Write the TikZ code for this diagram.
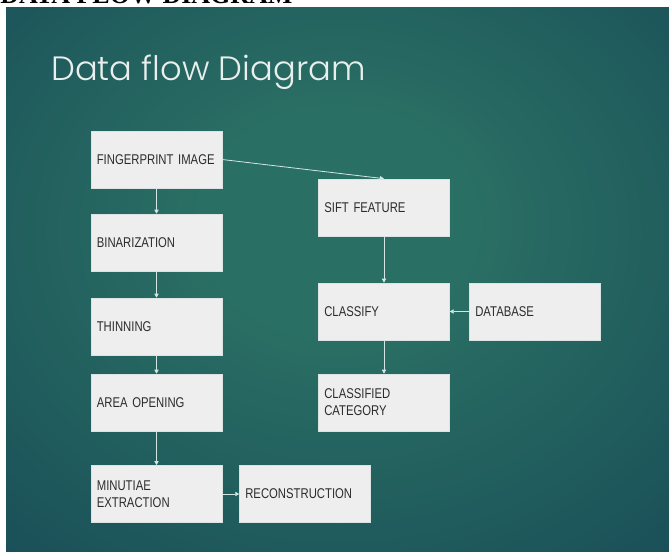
\documentclass[tikz,border=0pt]{standalone}
\usepackage{fontspec}
\setmainfont{Liberation Sans}
\newfontfamily\boxfont[FakeStretch=0.8]{Liberation Sans}
\newfontfamily\titlefont{Poppins Light}
\newfontfamily\headfont{Liberation Serif}
\usetikzlibrary{arrows.meta}
\definecolor{bgc}{HTML}{2A6F64}
\definecolor{bgm}{HTML}{1C545A}
\definecolor{bgo}{HTML}{10354A}
\definecolor{boxfill}{HTML}{EEEEEE}
\definecolor{boxline}{HTML}{DCE3E3}
\definecolor{boxtext}{HTML}{2C2C2C}
\definecolor{arrowc}{HTML}{D2E6E4}
\definecolor{titlec}{HTML}{E9EEEE}
\pgfdeclareradialshading{slidebg}{\pgfpoint{0bp}{6bp}}{%
  color(0bp)=(bgc); color(10bp)=(bgc); color(34bp)=(bgm); color(62bp)=(bgo); color(80bp)=(bgo)}
\tikzset{
  procbox/.style={draw=boxline, line width=0.5pt, fill=boxfill, rectangle,
    minimum width=98pt, minimum height=42.75pt, text width=89.5pt,
    inner xsep=4.3pt, inner ysep=0pt, align=left, text=boxtext,
    font=\boxfont\fontsize{10.6}{12.75}\selectfont},
  flow/.style={draw=arrowc, line width=0.6pt,
    -{Triangle[length=3pt,width=3.2pt]}}
}
\begin{document}
\begin{tikzpicture}[x=0.75pt,y=-0.75pt]
\useasboundingbox (0,0) rectangle (669,551);
\fill[white] (0,0) rectangle (669,551);
\begin{scope}
  \clip (0,0) rectangle (669,7);
  \node[anchor=base west, inner sep=0pt, font=\headfont\bfseries\fontsize{19.5}{19.5}\selectfont]
    (header) at (0,3.5) {DATA FLOW DIAGRAM};
\end{scope}
\shade[shading=slidebg] (6,7) rectangle (669,551);
\node[anchor=base west, inner sep=0pt, text=titlec,
  font=\titlefont\fontsize{25.3}{26}\selectfont] (title) at (51,80) {Data flow Diagram};
% left column
\node[procbox] (fp)  at (156.5,159.5) {\mbox{FINGERPRINT IMAGE}};
\node[procbox] (bin) at (156.5,242.5) {BINARIZATION};
\node[procbox] (thin) at (156.5,326.5) {THINNING};
\node[procbox] (area) at (156.5,402.5) {AREA OPENING};
\node[procbox] (ext) at (156.5,494) {MINUTIAE\\EXTRACTION};
\node[procbox] (rec) at (305,494) {\mbox{RECONSTRUCTION}};
% right column
\node[procbox] (sift) at (384,207.5) {SIFT FEATURE};
\node[procbox] (cls) at (384,311.5) {CLASSIFY};
\node[procbox] (db)  at (535,311.5) {DATABASE};
\node[procbox] (cat) at (384,402.5) {CLASSIFIED\\CATEGORY};
% connectors
\draw[flow] (fp.east) -- (sift.north);
\draw[flow] (fp.south) -- (bin.north);
\draw[flow] (bin.south) -- (thin.north);
\draw[flow] (thin.south) -- (area.north);
\draw[flow] (area.south) -- (ext.north);
\draw[flow] (ext.east) -- (rec.west);
\draw[flow] (sift.south) -- (cls.north);
\draw[flow] (db.west) -- (cls.east);
\draw[flow] (cls.south) -- (cat.north);
\end{tikzpicture}
\end{document}
